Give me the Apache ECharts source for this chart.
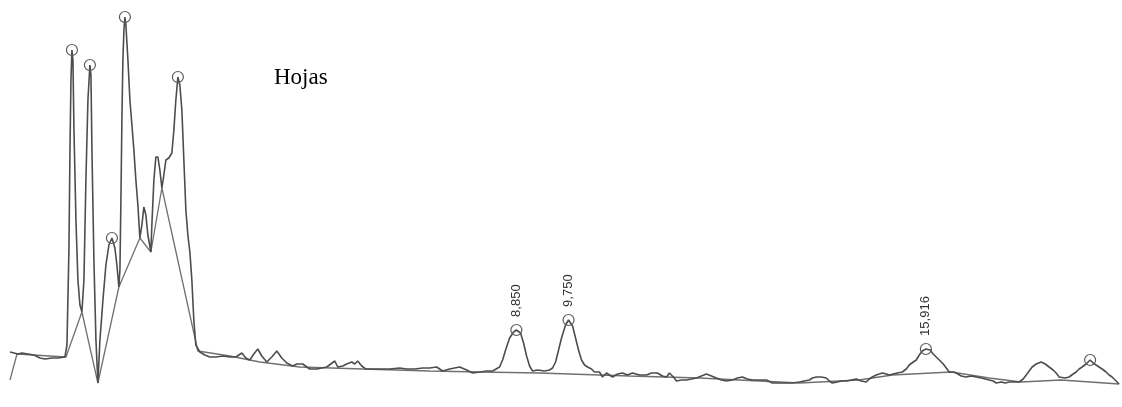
<!DOCTYPE html>
<html>
<head>
<meta charset="utf-8">
<title>Hojas</title>
<script src="https://cdn.jsdelivr.net/npm/echarts@6/dist/echarts.min.js"></script>
<style>
  html, body { margin: 0; padding: 0; background: #ffffff; }
  #chart { width: 1122px; height: 407px; }
</style>
</head>
<body>
<div id="chart"></div>
<script>
// Chromatogram trace: retention time (min) and detector response (a.u.)
const signalTime = [
  0.112, 0.181, 0.250, 0.319, 0.422, 0.526, 0.629, 0.716, 0.836, 0.940,
  1.060, 1.095, 1.129, 1.147, 1.164, 1.181, 1.198, 1.216, 1.250, 1.284,
  1.319, 1.353, 1.388, 1.422, 1.457, 1.491, 1.509, 1.526, 1.560, 1.595,
  1.629, 1.664, 1.716, 1.767, 1.819, 1.871, 1.922, 1.957, 1.991, 2.009,
  2.026, 2.043, 2.060, 2.078, 2.095, 2.112, 2.147, 2.181, 2.216, 2.250,
  2.284, 2.319, 2.353, 2.388, 2.422, 2.457, 2.491, 2.543, 2.560, 2.595,
  2.629, 2.664, 2.698, 2.733, 2.767, 2.802, 2.853, 2.905, 2.940, 2.974,
  3.009, 3.043, 3.078, 3.112, 3.147, 3.181, 3.216, 3.250, 3.284, 3.319,
  3.388, 3.474, 3.560, 3.664, 3.784, 3.905, 4.009, 4.112, 4.181, 4.250,
  4.319, 4.388, 4.457, 4.543, 4.629, 4.716, 4.802, 4.888, 4.991, 5.060,
  5.164, 5.233, 5.284, 5.405, 5.491, 5.578, 5.647, 5.716, 5.767, 5.853,
  5.922, 6.009, 6.060, 6.112, 6.181, 6.250, 6.440, 6.664, 6.836, 6.957,
  7.095, 7.233, 7.353, 7.474, 7.526, 7.578, 7.698, 7.784, 7.871, 7.991,
  8.095, 8.216, 8.336, 8.440, 8.560, 8.612, 8.664, 8.733, 8.802, 8.850,
  8.922, 8.974, 9.026, 9.078, 9.129, 9.216, 9.336, 9.422, 9.474, 9.526,
  9.578, 9.629, 9.698, 9.750, 9.819, 9.871, 9.922, 9.974, 10.026, 10.078,
  10.147, 10.198, 10.284, 10.336, 10.405, 10.509, 10.595, 10.681, 10.767, 10.853,
  10.974, 11.095, 11.181, 11.284, 11.371, 11.440, 11.491, 11.560, 11.612, 11.698,
  11.784, 11.871, 11.957, 12.043, 12.129, 12.216, 12.302, 12.388, 12.474, 12.578,
  12.664, 12.750, 12.836, 12.922, 13.043, 13.164, 13.267, 13.388, 13.509, 13.612,
  13.733, 13.819, 13.905, 13.957, 14.026, 14.112, 14.198, 14.250, 14.302, 14.388,
  14.457, 14.543, 14.629, 14.716, 14.802, 14.888, 14.940, 14.991, 15.060, 15.112,
  15.164, 15.233, 15.284, 15.353, 15.422, 15.509, 15.578, 15.629, 15.698, 15.750,
  15.802, 15.853, 15.916, 15.991, 16.026, 16.095, 16.147, 16.216, 16.267, 16.319,
  16.353, 16.405, 16.440, 16.526, 16.612, 16.698, 16.784, 16.871, 16.940, 17.009,
  17.078, 17.129, 17.216, 17.284, 17.353, 17.440, 17.526, 17.595, 17.647, 17.698,
  17.750, 17.819, 17.905, 17.974, 18.043, 18.112, 18.164, 18.216, 18.250, 18.319,
  18.388, 18.457, 18.509, 18.560, 18.612, 18.681, 18.750, 18.802, 18.853, 18.905,
  18.957, 19.026, 19.078, 19.129, 19.181, 19.250
];
const signalResponse = [
  48, 47, 46, 47, 46, 45, 42, 41, 42, 42,
  43, 55, 150, 250, 320, 350, 340, 270, 180, 120,
  95, 88, 120, 220, 300, 335, 325, 250, 140, 60,
  17, 60, 100, 135, 155, 162, 152, 135, 113, 130,
  200, 280, 340, 370, 383, 375, 340, 300, 275, 250,
  220, 195, 162, 175, 193, 185, 165, 148, 175, 220,
  243, 243, 230, 212, 225, 240, 242, 247, 270, 300,
  323, 315, 290, 240, 190, 165, 148, 120, 80, 55,
  48, 45, 43, 43, 44, 43, 43, 47, 42, 40,
  46, 51, 44, 38, 43, 49, 42, 37, 34, 36,
  36, 33, 31, 31, 32, 33, 36, 39, 33, 34,
  36, 38, 36, 39, 34, 31, 31, 31, 32, 31,
  31, 32, 32, 33, 31, 29, 31, 32, 33, 30,
  27, 28, 29, 29, 33, 40, 50, 62, 68, 70,
  67, 57, 44, 34, 29, 30, 29, 30, 32, 38,
  50, 62, 75, 80, 74, 62, 50, 40, 35, 33,
  31, 28, 28, 23, 27, 23, 26, 27, 25, 27,
  25, 25, 27, 27, 24, 23, 27, 23, 19, 20,
  20, 21, 22, 24, 26, 24, 22, 20, 19, 20,
  22, 23, 21, 20, 20, 20, 17, 17, 17, 17,
  18, 19, 20, 22, 23, 23, 22, 19, 17, 18,
  19, 19, 20, 21, 19, 18, 21, 23, 25, 26,
  27, 26, 25, 26, 27, 28, 31, 35, 38, 40,
  45, 49, 51, 50, 47, 43, 40, 36, 32, 28,
  27, 28, 27, 24, 23, 24, 23, 22, 21, 20,
  19, 17, 18, 17, 18, 18, 18, 21, 25, 29,
  33, 36, 38, 36, 33, 30, 27, 23, 21, 22,
  23, 26, 28, 31, 33, 36, 40, 37, 35, 33,
  31, 28, 25, 23, 20, 16
];

// Integration baseline drawn under the peaks
const baselineTime = [
  0.112, 0.233, 1.078, 1.353, 1.629, 1.991, 2.353, 2.543, 2.733, 3.353,
  3.905, 4.422, 5.112, 6.198, 7.353, 8.216, 9.250, 10.802, 12.009, 13.733,
  14.767, 15.336, 16.353, 17.009, 17.560, 18.250, 19.250
];
const baselineResponse = [
  20, 46, 43, 88, 17, 113, 162, 148, 212, 49,
  44, 38, 33, 31, 29, 28, 27, 24, 22, 17,
  20, 25, 28, 22, 18, 20, 16
];

// Detected peak apexes
const peakTime = [1.181, 1.491, 1.871, 2.095, 3.009, 8.850, 9.750, 15.916, 18.750];
const peakResponse = [350, 335, 162, 383, 323, 70, 80, 51, 40];
// Retention time printed above a peak (empty when not annotated)
const peakLabel = ['', '', '', '', '', '8,850', '9,750', '15,916', ''];

const sampleName = 'Hojas';

const zip = (xs, ys) => xs.map((x, i) => [x, ys[i]]);

const chart = echarts.init(document.getElementById('chart'), null, { renderer: 'canvas' });

chart.setOption({
  animation: false,
  backgroundColor: '#ffffff',
  grid: { left: 3.5, top: 0, width: 1119.4, height: 400, containLabel: false },
  xAxis: {
    type: 'value', min: 0, max: 19.3,
    show: false
  },
  yAxis: {
    type: 'value', min: 0, max: 400,
    show: false
  },
  graphic: [{
    type: 'text',
    left: 274,
    top: 66,
    style: {
      text: sampleName,
      font: '23px "Liberation Serif", "Times New Roman", serif',
      fill: '#000000'
    }
  }],
  series: [
    {
      name: 'baseline',
      type: 'line',
      data: zip(baselineTime, baselineResponse),
      showSymbol: false,
      lineStyle: { color: '#707070', width: 1.3 },
      z: 2
    },
    {
      name: 'signal',
      type: 'line',
      data: zip(signalTime, signalResponse),
      showSymbol: false,
      lineStyle: { color: '#4d4d4d', width: 1.6 },
      z: 3
    },
    {
      name: 'peaks',
      type: 'scatter',
      data: peakTime.map((t, i) => ({ value: [t, peakResponse[i]], name: peakLabel[i] })),
      symbol: 'circle',
      symbolSize: 11,
      itemStyle: { color: 'rgba(0,0,0,0)', borderColor: '#5a5a5a', borderWidth: 1.2, opacity: 1 },
      label: {
        show: true,
        position: 'top',
        distance: 7,
        rotate: 90,
        align: 'left',
        verticalAlign: 'middle',
        fontFamily: '"Liberation Sans", Arial, sans-serif',
        fontSize: 13,
        color: '#333333',
        formatter: p => p.name
      },
      z: 4
    }
  ]
});
</script>
</body>
</html>
